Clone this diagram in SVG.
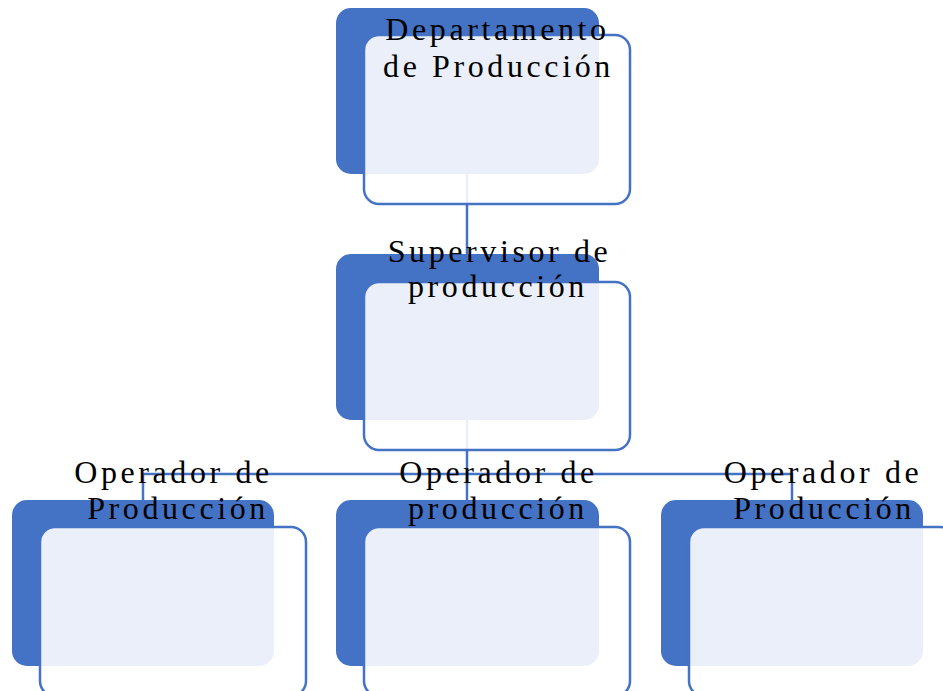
<svg xmlns="http://www.w3.org/2000/svg" width="943" height="691" viewBox="0 0 943 691">
<style>
.back{fill:#4472C4;}
.front{fill:#FFFFFF;fill-opacity:0.89;stroke:#4472C4;stroke-width:2.5;}
.conn{fill:none;stroke:#4472C4;stroke-width:2.5;}
.lbl{font-family:"Liberation Serif","Times New Roman",serif;font-size:32px;letter-spacing:3.6px;fill:#000;text-anchor:middle;}
</style>
<rect width="943" height="691" fill="#FFFFFF"/>
<g id="connectors">
<path class="conn" d="M467,174 V256"/>
<path class="conn" d="M467,420 V502"/>
<path class="conn" d="M143,474 H792"/>
<path class="conn" d="M143,473 V500"/>
<path class="conn" d="M792,473 V500"/>
</g>
<g id="n-departamento">
<rect class="back" x="336" y="8" width="263" height="166" rx="15"/>
<rect class="front" x="364" y="35" width="266" height="169" rx="15"/>
<text class="lbl" x="497.5" y="40">Departamento</text>
<text class="lbl" x="498.5" y="77">de Producción</text>
</g>
<g id="n-supervisor">
<rect class="back" x="336" y="254" width="263" height="166" rx="15"/>
<rect class="front" x="364" y="282" width="266" height="168" rx="15"/>
<text class="lbl" x="499.5" y="262">Supervisor de</text>
<text class="lbl" x="498" y="297">producción</text>
</g>
<g id="n-operador-1">
<rect class="back" x="12" y="500" width="262" height="166" rx="15"/>
<rect class="front" x="40" y="527" width="266" height="169" rx="15"/>
<text class="lbl" x="173.5" y="483">Operador de</text>
<text class="lbl" x="178" y="519">Producción</text>
</g>
<g id="n-operador-2">
<rect class="back" x="336" y="500" width="263" height="166" rx="15"/>
<rect class="front" x="364" y="527" width="266" height="169" rx="15"/>
<text class="lbl" x="498.5" y="483">Operador de</text>
<text class="lbl" x="498" y="519">producción</text>
</g>
<g id="n-operador-3">
<rect class="back" x="661" y="500" width="262" height="166" rx="15"/>
<rect class="front" x="689" y="527" width="266" height="169" rx="15"/>
<text class="lbl" x="823" y="483">Operador de</text>
<text class="lbl" x="824" y="519">Producción</text>
</g>
</svg>
